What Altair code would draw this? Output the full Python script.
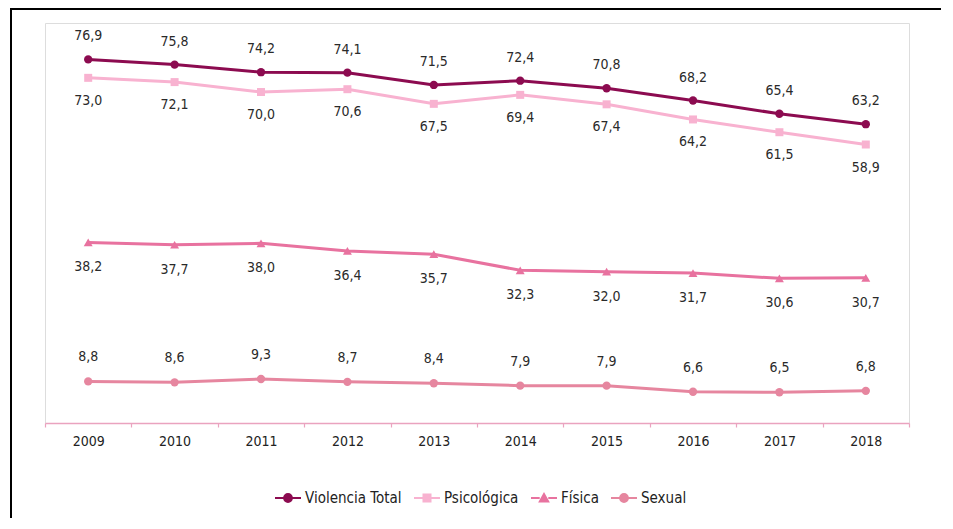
import altair as alt
import pandas as pd

years = [2009, 2010, 2011, 2012, 2013, 2014, 2015, 2016, 2017, 2018]
series = ["Violencia Total", "Psicológica", "Física", "Sexual"]
total = [76.9, 75.8, 74.2, 74.1, 71.5, 72.4, 70.8, 68.2, 65.4, 63.2]
psico = [73.0, 72.1, 70.0, 70.6, 67.5, 69.4, 67.4, 64.2, 61.5, 58.9]
fisica = [38.2, 37.7, 38.0, 36.4, 35.7, 32.3, 32.0, 31.7, 30.6, 30.7]
sexual = [8.8, 8.6, 9.3, 8.7, 8.4, 7.9, 7.9, 6.6, 6.5, 6.8]

values = {"Violencia Total": total, "Psicológica": psico, "Física": fisica, "Sexual": sexual}
colors = {"Violencia Total": "#8c0b50", "Psicológica": "#f8b2d0", "Física": "#e8729f", "Sexual": "#e6869f"}
shapes = {"Violencia Total": "circle", "Psicológica": "square", "Física": "triangle-up", "Sexual": "circle"}
sizes = {"Violencia Total": 70, "Psicológica": 64, "Física": 80, "Sexual": 70}
label_dy = {"Violencia Total": -23, "Psicológica": 23, "Física": 25, "Sexual": -24}

FONT = "Liberation Sans Narrow, DejaVu Sans Condensed, Liberation Sans, Arial"

line_seg = "M-1,0H-0.33M0.33,0H1"
legend_paths = [
    line_seg + "M-0.3,0A0.3,0.3 0 1,0 0.3,0A0.3,0.3 0 1,0 -0.3,0Z",
    line_seg + "M-0.27,-0.27H0.27V0.27H-0.27Z",
    line_seg + "M-0.32,0.26L0,-0.3L0.32,0.26Z",
    line_seg + "M-0.3,0A0.3,0.3 0 1,0 0.3,0A0.3,0.3 0 1,0 -0.3,0Z",
]

x_enc = alt.X(
    "year:O",
    bandPosition=0.5,
    scale=alt.Scale(type="band", paddingInner=0, paddingOuter=0),
    axis=alt.Axis(
        title=None, grid=False, labelAngle=0,
        domainColor="#eaa3bf", domainWidth=1.5,
        tickColor="#eaa3bf", tickWidth=1.2, tickSize=4, tickBand="extent",
        labelFont=FONT, labelFontSize=14, labelColor="#222222", labelPadding=7,
    ),
)
y_enc = alt.Y("value:Q", scale=alt.Scale(domain=[0, 84.6]), axis=None)

layers = []
for name in ["Sexual", "Física", "Psicológica", "Violencia Total"]:
    df = pd.DataFrame({"year": years, "value": values[name]})
    base = alt.Chart(df).encode(x=x_enc, y=y_enc)
    layers.append(base.mark_line(color=colors[name], strokeWidth=3))
    layers.append(base.mark_point(shape=shapes[name], filled=True, opacity=1,
                                  color=colors[name], size=sizes[name]))
    layers.append(
        base.transform_calculate(lab="replace(format(datum.value, '.1f'), '.', ',')")
        .mark_text(font=FONT, fontSize=14, color="#2a2a2a", dy=label_dy[name])
        .encode(text="lab:N")
    )

leg = alt.Legend(
    title=None, orient="none", legendX=229, legendY=461, direction="horizontal",
    columns=4, labelFont=FONT, labelFontSize=15, labelColor="#222222",
    symbolSize=676, symbolStrokeWidth=2, columnPadding=8, labelOffset=3,
)
legend_df = pd.DataFrame({"serie": series})
legend_layer = (
    alt.Chart(legend_df)
    .transform_filter("false")
    .mark_point(filled=True, opacity=1)
    .encode(
        fill=alt.Fill("serie:N", scale=alt.Scale(domain=series, range=[colors[s] for s in series]), legend=leg),
        stroke=alt.Stroke("serie:N", scale=alt.Scale(domain=series, range=[colors[s] for s in series]), legend=leg),
        shape=alt.Shape("serie:N", scale=alt.Scale(domain=series, range=legend_paths), legend=leg),
    )
)

frame_df = pd.DataFrame({"a": [0]})
frame_left = alt.Chart(frame_df).mark_rule(color="black", strokeWidth=2).encode(
    x=alt.value(-34), y=alt.value(-14), y2=alt.value(495)
)
frame_top = alt.Chart(frame_df).mark_rule(color="black", strokeWidth=2).encode(
    x=alt.value(-35), x2=alt.value(896), y=alt.value(-14)
)

chart = (
    alt.layer(*layers, legend_layer, frame_left, frame_top)
    .properties(width=864, height=400, padding={"left": 1, "top": 0, "right": 0, "bottom": 0})
    .configure_view(stroke=None)
    .configure(background="white")
)
chart.save("out.html", embed_options={"renderer": "svg", "actions": False})
